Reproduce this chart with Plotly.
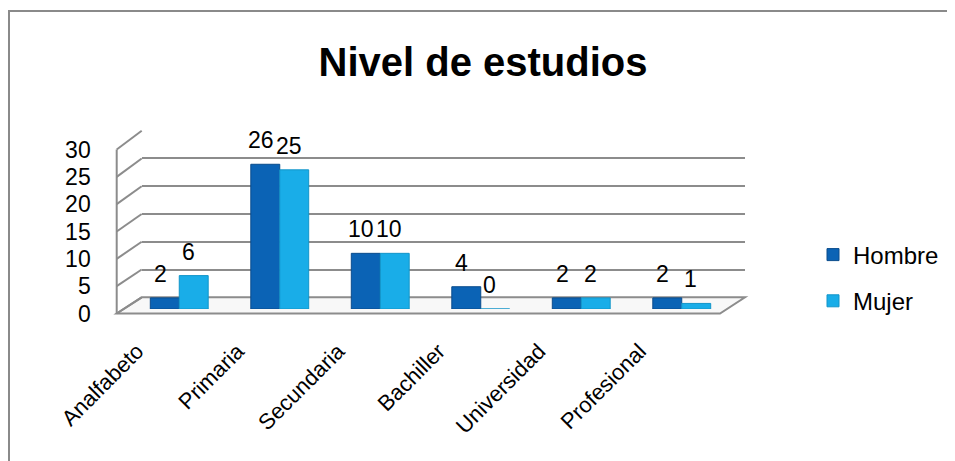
import plotly.graph_objects as go

# ---------------- data ----------------
categories = ["Analfabeto", "Primaria", "Secundaria", "Bachiller", "Universidad", "Profesional"]
hombre = [2, 26, 10, 4, 2, 2]
mujer = [6, 25, 10, 0, 2, 1]
series_names = ["Hombre", "Mujer"]
y_ticks = [0, 5, 10, 15, 20, 25, 30]
title_text = "Nivel de estudios"

# ---------------- styling ----------------
W, H = 955, 461
OFF = 8  # default page body margin
FONT = "Liberation Sans"
C_H = "#0B63B5"
C_M = "#19ADE8"
GRID = "#8C8C8C"


def px(x):
    return (x - OFF) / W


def py(y):
    return 1 - (y - OFF) / H


fig = go.Figure()

# subplot 1: back-wall gridlines
fig.add_trace(go.Scatter(x=[0, 1], y=[0, 0], mode="markers", marker=dict(opacity=0),
                         showlegend=False, hoverinfo="skip", xaxis="x", yaxis="y"))
# subplot 2: front value axis labels
fig.add_trace(go.Scatter(x=[0, 1], y=[0, 0], mode="markers", marker=dict(opacity=0),
                         showlegend=False, hoverinfo="skip", xaxis="x2", yaxis="y2"))
# subplot 3: bars
for name, vals, col, edge in [(series_names[0], hombre, C_H, "#0A4C8C"), (series_names[1], mujer, C_M, "#1395C9")]:
    fig.add_trace(go.Bar(x=categories, y=vals, name=name,
                         marker=dict(color=col, line=dict(color=edge, width=1)),
                         xaxis="x3", yaxis="y3", legendgroup=name))

# data labels
annotations = []
for i, c in enumerate(categories):
    annotations.append(dict(x=c, y=hombre[i], xref="x3", yref="y3", text=str(hombre[i]), showarrow=False,
                            xshift=-19, yshift=24, font=dict(family=FONT, size=23, color="black")))
    annotations.append(dict(x=c, y=mujer[i], xref="x3", yref="y3", text=str(mujer[i]), showarrow=False,
                            xshift=9, yshift=24, font=dict(family=FONT, size=23, color="black")))

# front / back plane geometry (screen pixels)
FL, FR = 116.7, 720.0      # front plane left/right x
BL, BR = 141.7, 745.0      # back plane left/right x
F0, F30 = 313.5, 149.5     # front plane y for 0 and 30
B0, B30 = 297.3, 130.7     # back plane y for 0 and 30

shapes = []
# outer border (only top/left visible)
shapes.append(dict(type="rect", xref="paper", yref="paper", x0=px(9), x1=px(990), y0=py(11), y1=py(490),
                   line=dict(color="#8A8A8A", width=2), fillcolor="rgba(0,0,0,0)", layer="below"))
# floor
shapes.append(dict(type="path", xref="paper", yref="paper",
                   path=f"M {px(FL)} {py(F0)} L {px(FR)} {py(F0)} L {px(BR)} {py(B0)} L {px(BL)} {py(B0)} Z",
                   fillcolor="#F8F8F8", line=dict(color=GRID, width=2), layer="below"))
# left side wall: vertical front edge and diagonals
shapes.append(dict(type="line", xref="paper", yref="paper", x0=px(FL), x1=px(FL), y0=py(F0), y1=py(F30),
                   line=dict(color=GRID, width=2), layer="below"))
for v in y_ticks:
    yf = F0 + (F30 - F0) * v / 30
    yb = B0 + (B30 - B0) * v / 30
    shapes.append(dict(type="line", xref="paper", yref="paper", x0=px(FL), x1=px(BL), y0=py(yf), y1=py(yb),
                       line=dict(color=GRID, width=2), layer="below"))

fig.update_layout(
    width=W, height=H, autosize=False,
    margin=dict(l=0, r=0, t=0, b=0, pad=0),
    paper_bgcolor="white", plot_bgcolor="rgba(0,0,0,0)",
    font=dict(family=FONT, color="black"),
    title=dict(text=f"<b>{title_text}</b>", x=px(483), y=py(62), xanchor="center", yanchor="middle",
               xref="paper", yref="paper", automargin=False,
               font=dict(family=FONT, size=40, color="black")),
    barmode="group", bargap=0.424, bargroupgap=0,
    xaxis=dict(domain=[px(BL), px(BR)], range=[0, 1], visible=False, fixedrange=True, automargin=False),
    yaxis=dict(domain=[py(B0), py(B30)], range=[0, 30], tickvals=y_ticks, showticklabels=False,
               showgrid=True, gridcolor=GRID, gridwidth=2, zeroline=False, showline=False, ticks="",
               fixedrange=True, automargin=False),
    xaxis2=dict(domain=[px(FL), px(FR)], range=[0, 1], visible=False, anchor="y2", automargin=False),
    yaxis2=dict(domain=[py(F0), py(F30)], range=[0, 30], tickvals=y_ticks, anchor="free", position=px(FL),
                side="left", showgrid=False, zeroline=False, showline=False, ticks="", automargin=False,
                ticklabelstandoff=26, tickfont=dict(family=FONT, size=23, color="black")),
    xaxis3=dict(domain=[px(129), px(732)], anchor="y3", showgrid=False, showline=False, ticks="",
                tickangle=-45, ticklabelstandoff=24, ticklabelshift=-42, automargin=False,
                tickfont=dict(family=FONT, size=22, color="black")),
    yaxis3=dict(domain=[py(309), py(142)], range=[0, 30], anchor="x3", visible=False, automargin=False),
    legend=dict(x=px(813), y=py(278), xanchor="left", yanchor="middle", traceorder="grouped",
                tracegroupgap=12, font=dict(family=FONT, size=24, color="black"), bgcolor="rgba(0,0,0,0)"),
    annotations=annotations,
    shapes=shapes,
)

fig.write_html("out.html")
